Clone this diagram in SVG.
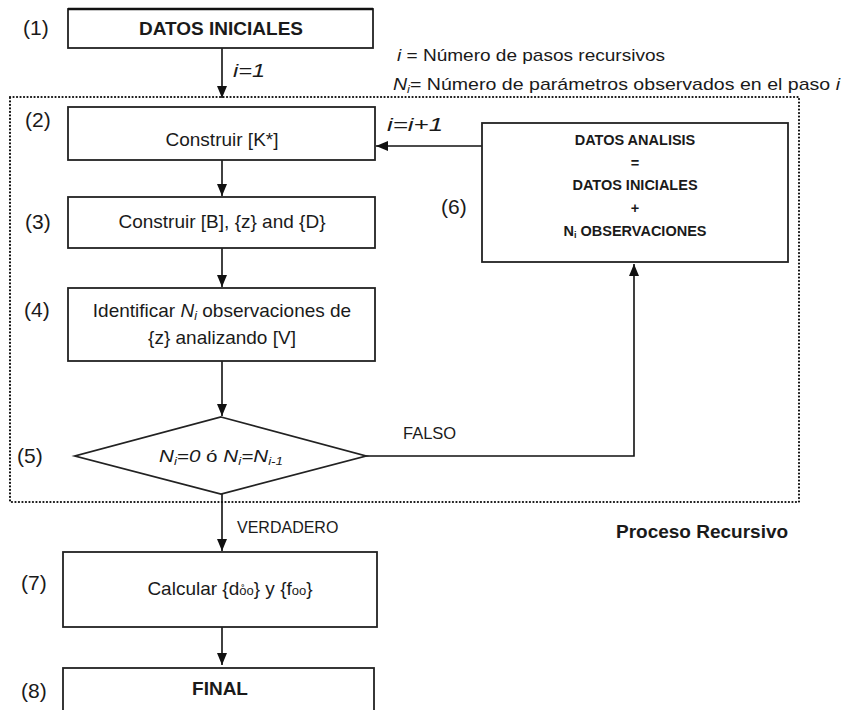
<svg xmlns="http://www.w3.org/2000/svg" width="841" height="710" viewBox="0 0 841 710">
<style>
.bg{fill:#fff}
.box{fill:#fff;stroke:#222;stroke-width:1.8}
.t{font-family:"Liberation Sans",Arial,Helvetica,sans-serif;fill:#1a1a1a}
.c{text-anchor:middle}
.b{font-weight:bold}
.it{font-style:italic}
.n{font-size:21px}
.m{font-size:19px}
.s{font-size:14.5px}
.dot{fill:none;stroke:#111;stroke-width:2.2;stroke-dasharray:0.1 3.4;stroke-linecap:round}
.ln{fill:none;stroke:#111;stroke-width:1.6}
</style>
<defs>
<marker id="ah" viewBox="0 0 12 10" refX="12" refY="5" markerWidth="12" markerHeight="10" orient="auto" markerUnits="userSpaceOnUse">
<path d="M0,0 L12,5 L0,10 z" fill="#111"/>
</marker>
</defs>
<rect class="bg" x="0" y="0" width="841" height="710"/>

<g id="recursive-frame">
<rect class="dot" x="10" y="97" width="789" height="405"/>
<text class="t b" x="616" y="538" font-size="19px">Proceso Recursivo</text>
</g>

<g id="legend">
<text class="t" x="397" y="61" font-size="17px" textLength="268" lengthAdjust="spacingAndGlyphs"><tspan class="it">i</tspan> = Número de pasos recursivos</text>
<text class="t" x="393" y="90" font-size="17px" textLength="447" lengthAdjust="spacingAndGlyphs"><tspan class="it">N</tspan><tspan class="it" font-size="11px" dy="3">i</tspan><tspan dy="-3">= Número de parámetros observados en el paso  </tspan><tspan class="it">i</tspan></text>
</g>

<g id="connectors">
<line class="ln" x1="222" y1="48" x2="222" y2="98" marker-end="url(#ah)"/>
<line class="ln" x1="222" y1="160" x2="222" y2="196" marker-end="url(#ah)"/>
<line class="ln" x1="222" y1="248" x2="222" y2="287" marker-end="url(#ah)"/>
<line class="ln" x1="222" y1="361" x2="222" y2="416" marker-end="url(#ah)"/>
<line class="ln" x1="222" y1="494" x2="222" y2="551" marker-end="url(#ah)"/>
<line class="ln" x1="222" y1="627" x2="222" y2="665" marker-end="url(#ah)"/>
<line class="ln" x1="482" y1="146" x2="376" y2="146" marker-end="url(#ah)"/>
<polyline class="ln" points="366,456 634,456 634,264" marker-end="url(#ah)"/>
<text class="t it" x="233" y="77" font-size="19px" textLength="32" lengthAdjust="spacingAndGlyphs">i=1</text>
<text class="t it" x="387" y="131" font-size="19px" textLength="56" lengthAdjust="spacingAndGlyphs">i=i+1</text>
<text class="t" x="403" y="439" font-size="16.5px">FALSO</text>
<text class="t" x="237" y="533" font-size="16px">VERDADERO</text>
</g>

<g id="n1">
<rect class="box" x="68" y="9" width="305" height="39"/>
<line x1="68" y1="9" x2="373" y2="9" stroke="#111" stroke-width="2.6"/>
<text class="t n" x="23" y="35">(1)</text>
<text class="t b c" x="221" y="35" font-size="19px">DATOS INICIALES</text>
</g>

<g id="n2">
<rect class="box" x="68" y="107" width="307" height="53"/>
<text class="t n" x="25" y="127">(2)</text>
<text class="t m c" x="222" y="146">Construir [K*]</text>
</g>

<g id="n3">
<rect class="box" x="68" y="197" width="307" height="51"/>
<text class="t n" x="25" y="229">(3)</text>
<text class="t m c" x="222" y="228">Construir [B], {z} and {D}</text>
</g>

<g id="n4">
<rect class="box" x="68" y="288" width="307" height="73"/>
<text class="t n" x="24" y="317">(4)</text>
<text class="t m c" x="222" y="317">Identificar <tspan class="it">N</tspan><tspan class="it" font-size="12.5px" dy="3">i</tspan><tspan dy="-3"> observaciones de</tspan></text>
<text class="t m c" x="222" y="344">{z} analizando [V]</text>
</g>

<g id="n5">
<polygon class="box" points="221,417 366,456 221,494 75,456"/>
<text class="t n" x="17" y="463">(5)</text>
<text class="t it c" x="221" y="462" font-size="17px" textLength="124" lengthAdjust="spacingAndGlyphs">N<tspan font-size="11px" dy="3">i</tspan><tspan dy="-3">=0  </tspan><tspan font-style="normal">ó</tspan> N<tspan font-size="11px" dy="3">i</tspan><tspan dy="-3">=N</tspan><tspan font-size="11px" dy="3">i-1</tspan></text>
</g>

<g id="n6">
<rect class="box" x="482" y="123" width="306" height="139"/>
<text class="t n" x="441" y="214">(6)</text>
<text class="t b c s" x="635" y="145">DATOS ANALISIS</text>
<text class="t b c s" x="635" y="168">=</text>
<text class="t b c s" x="635" y="190">DATOS INICIALES</text>
<text class="t b c s" x="635" y="213">+</text>
<text class="t b c s" x="635" y="236">N<tspan font-size="9px" dy="2">i</tspan><tspan dy="-2"> OBSERVACIONES</tspan></text>
</g>

<g id="n7">
<rect class="box" x="63" y="552" width="314" height="75"/>
<text class="t n" x="21" y="590">(7)</text>
<text class="t m c" x="230" y="595">Calcular {d<tspan font-size="13px">o&#778;o</tspan>} y {f<tspan font-size="13px">oo</tspan>}</text>
</g>

<g id="n8">
<rect class="box" x="63" y="668" width="311" height="60"/>
<text class="t n" x="21" y="698">(8)</text>
<text class="t b c" x="220" y="695" font-size="19px">FINAL</text>
</g>
</svg>
